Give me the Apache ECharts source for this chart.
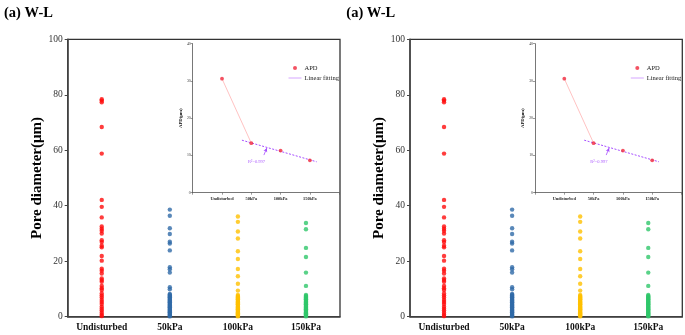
<!DOCTYPE html>
<html>
<head>
<meta charset="utf-8">
<script src="https://cdn.jsdelivr.net/npm/echarts@6/dist/echarts.min.js"></script>
<style>html,body{margin:0;padding:0;background:#fff;}#c{width:685px;height:335px;}</style>
</head>
<body>
<div id="c"></div>
<script>
// ---- data ----
const categories = ['Undisturbed', '50kPa', '100kPa', '150kPa'];
const yTicks = [0, 20, 40, 60, 80, 100];
const undisturbed = [78.4, 77.9, 77.3, 68.4, 58.8, 42.1, 39.6, 35.8, 32.5, 31.7, 31.0, 30.0, 27.6, 26.9, 25.6, 25.0, 21.9, 20.2, 17.3, 16.6, 15.6, 13.8, 13.2, 12.6, 11.1, 10.3, 9.6, 8.4, 7.6, 6.9, 6.0, 5.3, 4.6, 3.6, 2.9, 2.2, 1.4, 0.7, 0.2];
const kPa50 = [38.6, 36.4, 31.9, 29.8, 27.0, 26.4, 23.9, 17.8, 17.1, 15.9, 10.6, 9.9, 8.2, 7.9, 7.6, 7.3, 7.0, 6.7, 6.4, 6.1, 5.8, 5.5, 5.2, 4.9, 4.6, 4.3, 4.0, 3.7, 3.4, 3.1, 2.8, 2.5, 2.2, 1.9, 1.6, 1.3, 1.0, 0.7, 0.4, 0.1];
const kPa100 = [36.1, 34.2, 30.7, 28.2, 23.6, 20.8, 17.2, 14.6, 11.9, 9.4, 7.8, 7.5, 7.2, 6.9, 6.6, 6.3, 6.0, 5.7, 5.4, 5.1, 4.8, 4.5, 4.2, 3.9, 3.6, 3.3, 3.0, 2.7, 2.4, 2.1, 1.8, 1.5, 1.2, 0.9, 0.6, 0.3, 0.1];
const kPa150 = [33.8, 31.5, 24.8, 21.5, 15.9, 11.1, 7.8, 7.5, 7.2, 6.9, 6.6, 6.3, 6.0, 5.7, 5.4, 5.1, 4.8, 4.5, 4.2, 3.9, 3.6, 3.3, 3.0, 2.7, 2.4, 2.1, 1.8, 1.5, 1.2, 0.9, 0.6, 0.3, 0.1];
const groups = [undisturbed, kPa50, kPa100, kPa150];
const colors = ['#ff0d0d', '#2f6aa8', '#ffc000', '#2fc76a'];

// inset
const insetCategories = ['Undisturbed', '50kPa', '100kPa', '150kPa'];
const insetPos = [1, 2, 3, 4];
const apd = [30.6, 13.3, 11.3, 8.7];
const fitX = [1.68, 4.23];
const fitY = [14.1, 8.3];
const r2Text = 'R\u00b2=0.997';
const r2Pos = [2.18, 8.4];
const arrowFrom = [2.43, 10.1];
const arrowTo = [2.53, 12.0];

const panelTitle = '(a) W-L';
const yName = 'Pore diameter(\u03bcm)';
const insetYName = 'APD(\u03bcm)';

// ---- layout ----
const SERIF = 'Liberation Serif';
const panelW = 342.3;
const option = { animation: false, backgroundColor: '#fff', title: [], grid: [], xAxis: [], yAxis: [], series: [], legend: [] };

for (let p = 0; p < 2; p++) {
  const ox = p * panelW;
  option.title.push({ text: panelTitle, left: ox - 1, top: 1,
    textStyle: { fontFamily: SERIF, fontWeight: 'bold', fontSize: 14.5, color: '#000' } });
  const gMain = option.grid.length;
  option.grid.push({ left: ox + 67.7, top: 39.3, width: 272.3, height: 277.4, show: true,
    borderColor: '#333', borderWidth: 1.3, backgroundColor: 'transparent' });
  const gIn = option.grid.length;
  option.grid.push({ left: ox + 192.7, top: 43.7, width: 146.5, height: 149, show: false });

  const xMain = option.xAxis.length;
  option.xAxis.push({ type: 'category', gridIndex: gMain, data: categories, boundaryGap: true,
    axisLine: { lineStyle: { color: '#444', width: 1.5 } },
    axisTick: { alignWithLabel: true, length: 3, lineStyle: { color: '#444' } },
    axisLabel: { fontFamily: SERIF, fontWeight: 'bold', fontSize: 9.5, color: '#111', margin: 6 },
    splitLine: { show: false } });
  const yMain = option.yAxis.length;
  option.yAxis.push({ type: 'value', gridIndex: gMain, min: 0, max: 100, interval: 20,
    name: yName, nameLocation: 'middle', nameGap: 22,
    nameTextStyle: { fontFamily: SERIF, fontWeight: 'bold', fontSize: 15, color: '#000' },
    axisLine: { show: true, lineStyle: { color: '#444', width: 1.5 } },
    axisTick: { show: true, length: 3, lineStyle: { color: '#444' } },
    axisLabel: { fontFamily: SERIF, fontSize: 9.5, color: '#333', margin: 5,
      formatter: v => yTicks.includes(v) ? String(v) : '' },
    splitLine: { show: false } });

  const xIn = option.xAxis.length;
  option.xAxis.push({ type: 'value', gridIndex: gIn, min: 0, max: 5, interval: 1,
    axisLine: { show: true, onZero: false, lineStyle: { color: '#555', width: 0.8 } },
    axisTick: { show: true, length: 2, lineStyle: { color: '#555', width: 0.6 } },
    axisLabel: { fontFamily: SERIF, fontWeight: 'bold', fontSize: 4.3, color: '#222', margin: 4,
      formatter: v => { const i = insetPos.indexOf(v); return i >= 0 ? insetCategories[i] : ''; } },
    splitLine: { show: false } });
  const yIn = option.yAxis.length;
  option.yAxis.push({ type: 'value', gridIndex: gIn, min: 0, max: 40, interval: 10,
    name: insetYName, nameLocation: 'middle', nameGap: 7,
    nameTextStyle: { fontFamily: SERIF, fontWeight: 'bold', fontSize: 4.8, color: '#111' },
    axisLine: { show: true, lineStyle: { color: '#555', width: 0.8 } },
    axisTick: { show: true, length: 2, lineStyle: { color: '#555', width: 0.6 } },
    axisLabel: { fontFamily: SERIF, fontSize: 3.8, color: '#333', margin: 2 },
    splitLine: { show: false } });

  groups.forEach((g, i) => {
    option.series.push({ type: 'scatter', xAxisIndex: xMain, yAxisIndex: yMain,
      symbol: 'circle', symbolSize: 4.4, itemStyle: { color: colors[i] },
      data: g.map(v => [categories[i], v]), silent: true });
  });

  // inset: connection line Undisturbed -> 50kPa
  option.series.push({ type: 'line', xAxisIndex: xIn, yAxisIndex: yIn, symbol: 'none',
    lineStyle: { color: '#ffb3b3', width: 0.8 },
    data: [[insetPos[0], apd[0]], [insetPos[1], apd[1]]], silent: true });
  // linear fitting
  option.series.push({ name: 'Linear fitting', type: 'line', xAxisIndex: xIn, yAxisIndex: yIn, symbol: 'none',
    lineStyle: { color: '#a64dff', width: 1, type: [2, 1.5] }, itemStyle: { color: '#d5a6ff' },
    data: fitX.map((x, i) => [x, fitY[i]]), silent: true, z: 3,
    markLine: { silent: true, symbol: ['none', 'arrow'], symbolSize: [3, 4],
      lineStyle: { color: '#a64dff', width: 0.8, type: 'solid' }, label: { show: false },
      data: [[{ coord: arrowFrom }, { coord: arrowTo }]] } });
  // APD points
  option.series.push({ name: 'APD', type: 'scatter', xAxisIndex: xIn, yAxisIndex: yIn,
    symbol: 'circle', symbolSize: 3.8, itemStyle: { color: '#f0283c' },
    data: insetPos.map((x, i) => [x, apd[i]]), silent: true, z: 5 });
  // R2 label
  option.series.push({ type: 'scatter', xAxisIndex: xIn, yAxisIndex: yIn, symbolSize: 0,
    data: [r2Pos], silent: true,
    label: { show: true, formatter: r2Text, position: 'inside', fontFamily: SERIF, fontSize: 4.5, color: '#9933ff' } });

  option.legend.push({ left: ox + 283, top: 59.5, orient: 'vertical', itemWidth: 13, itemHeight: 4, itemGap: 3,
    textStyle: { fontFamily: SERIF, fontSize: 6.5, color: '#222', padding: [0, 0, 0, -2] },
    selectedMode: false,
    data: [{ name: 'APD', icon: 'circle' },
           { name: 'Linear fitting', lineStyle: { color: '#d5a6ff', type: 'solid', width: 1 },
             itemStyle: { opacity: 0, borderWidth: 0 } }] });
}

const chart = echarts.init(document.getElementById('c'), null, { renderer: 'canvas' });
chart.setOption(option);
</script>
</body>
</html>
